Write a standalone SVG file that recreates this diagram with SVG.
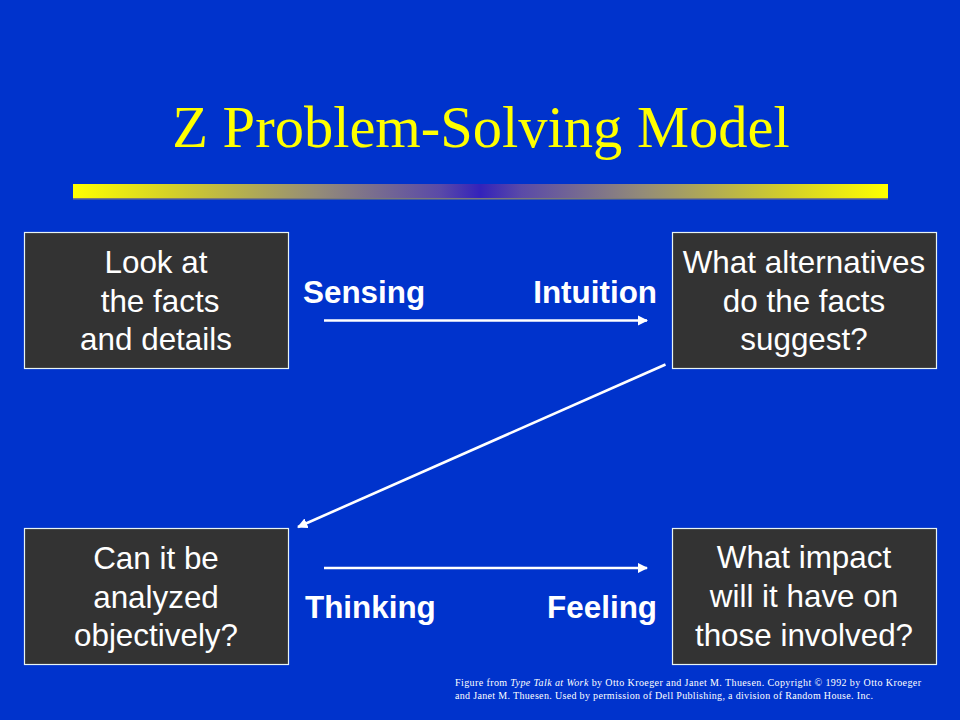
<svg xmlns="http://www.w3.org/2000/svg" width="960" height="720" viewBox="0 0 960 720">
<defs>
<style>
.box{fill:#333333;stroke:#e8f4f4;stroke-width:1.2}
.bt{font-family:"Liberation Sans",Arial,sans-serif;font-size:31.4px;fill:#ffffff;text-anchor:middle}
.lbl{font-family:"Liberation Sans",Arial,sans-serif;font-size:31.4px;font-weight:bold;fill:#ffffff}
.con{stroke:#ffffff;stroke-width:2.6;fill:none;marker-end:url(#ah)}
.fn{font-family:"Liberation Serif","Times New Roman",serif;font-size:10px;fill:#ffffff}
</style>
<marker id="ah" viewBox="0 0 10 10" refX="9" refY="5" markerWidth="4" markerHeight="4" orient="auto" markerUnits="strokeWidth">
<path d="M0,0 L10,5 L0,10 Z" fill="#ffffff"/>
</marker>
<linearGradient id="bar" x1="0" y1="0" x2="1" y2="0">
<stop offset="0" stop-color="#ffff00"/>
<stop offset="0.12" stop-color="#d4d028"/>
<stop offset="0.3" stop-color="#948c78"/>
<stop offset="0.45" stop-color="#5a4aa8"/>
<stop offset="0.5" stop-color="#3322bb"/>
<stop offset="0.55" stop-color="#5a4aa8"/>
<stop offset="0.7" stop-color="#948c78"/>
<stop offset="0.88" stop-color="#d4d028"/>
<stop offset="1" stop-color="#ffff00"/>
</linearGradient>
</defs>
<rect x="0" y="0" width="960" height="720" fill="#0033cc"/>
<text x="481" y="147" font-family="'Liberation Serif','Times New Roman',serif" font-size="58.5" fill="#ffff00" text-anchor="middle">Z Problem-Solving Model</text>
<rect x="73" y="184" width="815" height="15" fill="url(#bar)"/>
<rect x="73" y="198" width="815" height="1.5" fill="#7a7a7a"/>

<g id="connectors">
<line class="con" x1="324" y1="320.5" x2="647" y2="320.5"/>
<line class="con" x1="665.5" y1="364.5" x2="298" y2="527"/>
<line class="con" x1="324" y1="568" x2="647" y2="568"/>
<text class="lbl" x="303" y="303">Sensing</text>
<text class="lbl" x="657" y="303" text-anchor="end">Intuition</text>
<text class="lbl" x="305" y="618">Thinking</text>
<text class="lbl" x="657" y="618" text-anchor="end">Feeling</text>
</g>

<g id="node-facts">
<rect class="box" x="24.5" y="232.5" width="264" height="136"/>
<text class="bt" x="156" y="273">Look at</text>
<text class="bt" x="160" y="312">the facts</text>
<text class="bt" x="156" y="350">and details</text>
</g>
<g id="node-alternatives">
<rect class="box" x="672.5" y="232.5" width="264" height="136"/>
<text class="bt" x="804" y="273">What alternatives</text>
<text class="bt" x="804" y="312">do the facts</text>
<text class="bt" x="804" y="350">suggest?</text>
</g>
<g id="node-analyzed">
<rect class="box" x="24.5" y="528.5" width="264" height="136"/>
<text class="bt" x="156" y="569">Can it be</text>
<text class="bt" x="156" y="608">analyzed</text>
<text class="bt" x="156" y="646">objectively?</text>
</g>
<g id="node-impact">
<rect class="box" x="672.5" y="528.5" width="264" height="136"/>
<text class="bt" x="804" y="568">What impact</text>
<text class="bt" x="804" y="607">will it have on</text>
<text class="bt" x="804" y="646">those involved?</text>
</g>

<text class="fn" x="455" y="686" textLength="466" lengthAdjust="spacing">Figure from <tspan font-style="italic">Type Talk at Work</tspan> by Otto Kroeger and Janet M. Thuesen.  Copyright  © 1992 by Otto Kroeger</text>
<text class="fn" x="455" y="699" textLength="418" lengthAdjust="spacing">and Janet M. Thuesen.  Used by permission of Dell Publishing, a division of Random House. Inc.</text>
</svg>
